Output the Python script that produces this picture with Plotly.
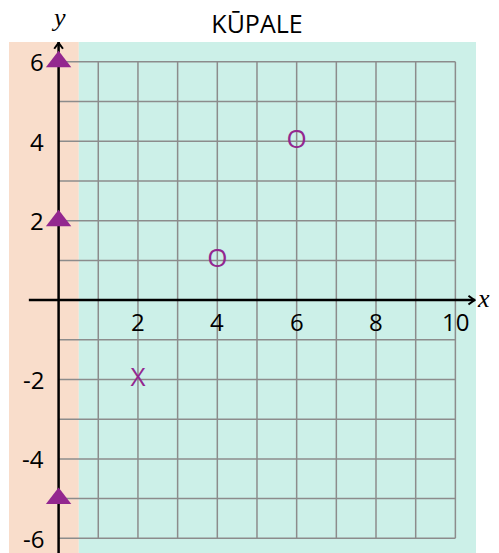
import plotly.graph_objects as go

# ---- data ----
title_text = "KŪPALE"
x_ticks = [2, 4, 6, 8, 10]
y_ticks = [6, 4, 2, -2, -4, -6]
grid_x = list(range(0, 11))
grid_y = list(range(-6, 7))
tri_x = [0, 0, 0]
tri_y = [6, 2, -5]
txt_x = [4, 6, 2]
txt_y = [1, 4, -2]
txt_labels = ["O", "O", "X"]

X_RANGE = [-1.25, 10.52]
Y_RANGE = [-6.37, 6.5]
ORANGE = "#F9DDCB"
TEAL = "#CCF0E8"
PURPLE = "#93278F"
GRID = "#8C8C8C"
FONT = "Open Sans"

W, H = 491, 545

fig = go.Figure()

shapes = []
# backgrounds
shapes.append(dict(type="rect", xref="x", yref="y", x0=X_RANGE[0], x1=0.51,
                   y0=Y_RANGE[0], y1=Y_RANGE[1], fillcolor=ORANGE, line_width=0, layer="below"))
shapes.append(dict(type="rect", xref="x", yref="y", x0=0.51, x1=X_RANGE[1],
                   y0=Y_RANGE[0], y1=Y_RANGE[1], fillcolor=TEAL, line_width=0, layer="below"))
# grid
for gx in grid_x[1:]:
    shapes.append(dict(type="line", xref="x", yref="y", x0=gx, x1=gx, y0=min(grid_y), y1=max(grid_y),
                       line=dict(color=GRID, width=1.5), layer="below"))
for gy in grid_y:
    shapes.append(dict(type="line", xref="x", yref="y", x0=0, x1=max(grid_x), y0=gy, y1=gy,
                       line=dict(color=GRID, width=1.5), layer="below"))
# axes
shapes.append(dict(type="line", xref="x", yref="y", x0=-0.75, x1=10.5, y0=0, y1=0,
                   line=dict(color="black", width=2.5), layer="below"))
shapes.append(dict(type="line", xref="x", yref="y", x0=0, x1=0, y0=Y_RANGE[0], y1=6.5,
                   line=dict(color="black", width=2.5), layer="below"))

# arrow chevrons
fig.add_trace(go.Scatter(x=[-0.11, 0, 0.11], y=[6.33, 6.48, 6.33], mode="lines",
                         line=dict(color="black", width=2), cliponaxis=False,
                         hoverinfo="skip", showlegend=False))
fig.add_trace(go.Scatter(x=[10.33, 10.48, 10.33], y=[0.11, 0, -0.11], mode="lines",
                         line=dict(color="black", width=2), cliponaxis=False,
                         hoverinfo="skip", showlegend=False))

# triangles
fig.add_trace(go.Scatter(x=tri_x, y=tri_y, mode="markers",
                         marker=dict(symbol="triangle-up", size=22, color=PURPLE),
                         cliponaxis=False, showlegend=False))
# O / X text marks
fig.add_trace(go.Scatter(x=txt_x, y=txt_y, mode="text", text=txt_labels,
                         textfont=dict(family=FONT, size=26, color=PURPLE),
                         textposition="middle center", showlegend=False))

annotations = []
for t in x_ticks:
    annotations.append(dict(x=t, y=-0.55, xref="x", yref="y", text=str(t), showarrow=False,
                            font=dict(family=FONT, size=24, color="black"),
                            xanchor="center", yanchor="middle"))
for t in y_ticks:
    annotations.append(dict(x=-0.33, y=t, xref="x", yref="y", text=str(t), showarrow=False,
                            font=dict(family=FONT, size=24, color="black"),
                            xanchor="right", yanchor="middle"))
annotations.append(dict(x=1.016, y=0.499, xref="paper", yref="paper", text="<i>x</i>", showarrow=False,
                        font=dict(family="Liberation Serif", size=26, color="black"),
                        xanchor="center", yanchor="middle"))
annotations.append(dict(x=0.107, y=1.047, xref="paper", yref="paper", text="<i>y</i>", showarrow=False,
                        font=dict(family="Liberation Serif", size=26, color="black"),
                        xanchor="center", yanchor="middle"))

fig.update_layout(
    width=W, height=H,
    margin=dict(l=1, r=23, t=34, b=0, autoexpand=False),
    paper_bgcolor="white", plot_bgcolor="white",
    title=dict(text=title_text, x=249 / W, xanchor="center", xref="container",
               y=1 - 16 / H, yanchor="middle", yref="container",
               font=dict(family=FONT, size=25, color="black")),
    xaxis=dict(range=X_RANGE, visible=False, fixedrange=True),
    yaxis=dict(range=Y_RANGE, visible=False, fixedrange=True),
    shapes=shapes, annotations=annotations, showlegend=False,
)

fig.write_html("out.html")
